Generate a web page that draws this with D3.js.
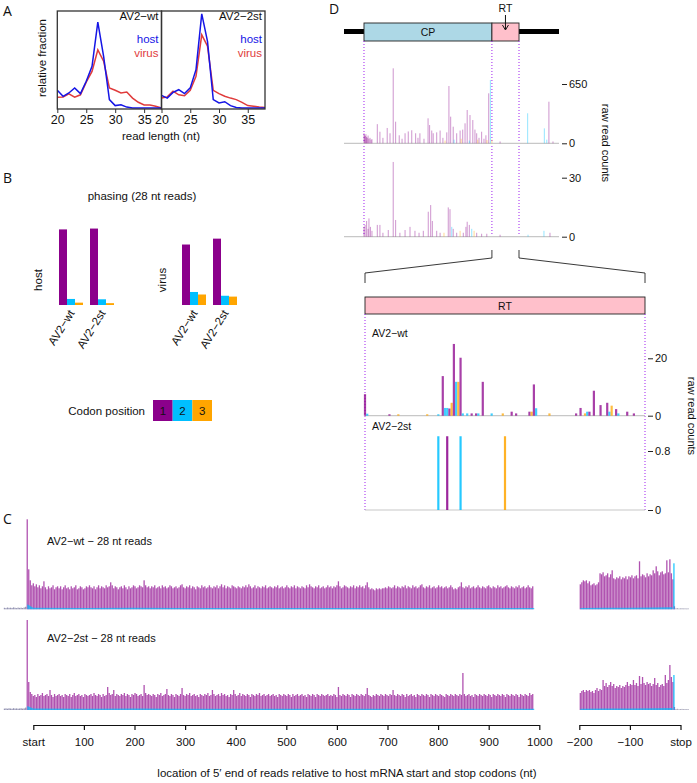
<!DOCTYPE html>
<html><head><meta charset="utf-8">
<script src="https://cdn.jsdelivr.net/npm/d3@7"></script>
<style>
body{margin:0;background:#fff;}
text{font-family:"Liberation Sans",Arial,sans-serif;fill:#111;}
.lett{font-family:"Open Sans","DejaVu Sans",sans-serif;font-size:14px;}
</style></head><body>
<svg id="c" width="697" height="783" xmlns="http://www.w3.org/2000/svg"></svg>
<script>
// ---------- DATA ----------
// Panel A: read-length distributions (%)
const readLengths = [20,21,22,23,24,25,26,27,28,29,30,31,32,33,34,35,36,37,38];
const hostWt   = [5.9,3.9,5.0,6.7,4.8,8.9,13.9,28.6,17.2,2.8,0.8,1.1,0.3,0,0,0,0,0,0];
const virusWt  = [3.6,3.7,4.7,3.6,4.4,8.6,12.2,19.4,15.6,6.7,5.9,5.0,5.3,3.3,1.9,1.0,1.0,0.6,0];
const host2st  = [4.2,3.3,5.2,6.1,4.8,6.7,12.8,31.4,22.2,2.8,1.7,2.1,0.8,0.2,0,0,0,0,0];
const virus2st = [3.3,3.7,5.6,4.4,4.1,5.9,10.6,24.4,20.6,5.9,4.8,3.9,3.3,2.8,1.9,0.8,0.6,0.3,0.2];
const aTicks = [20,25,30,35];

// Panel B: phasing fractions (frames 1,2,3)
const phasingSamples = ["AV2−wt","AV2−2st"];
const codonFrames = ["1","2","3"];
const phasingHost  = [[0.90,0.072,0.028],[0.91,0.068,0.022]];
const phasingVirus = [[0.72,0.155,0.125],[0.79,0.11,0.10]];

// Panel D: genome overview (genome coordinate 0..1000)
const genomeFeatures = [{name:"CP", start:93, end:688, fill:"#ADD8E6"},{name:"RT", start:688, end:814, fill:"#FFC0CB"}];
const dWtPos   = [93,96,99,102,105,108,112,116,121,126,130,155,167,181,201,214,229,240,257,270,284,299,315,333,344,353,372,391,398,408,415,431,447,460,478,488,496,508,524,540,552,563,573,586,599,609,617,628,640,651,660,673,681,688,726,854,932,943,953,972,470,512,545,583,622,665];
const dWtCount = [110,90,80,100,70,60,85,50,60,40,45,210,127,60,168,110,822,237,88,50,110,130,143,110,60,110,50,274,200,140,110,120,140,60,120,628,292,182,110,140,150,219,365,310,255,150,110,60,127,50,88,548,694,40,20,329,164,40,456,20,30,40,50,30,40,35];
const dWtFrame = [0,0,0,0,0,0,0,0,0,0,0,0,0,0,0,0,0,0,0,0,0,0,0,0,0,0,0,0,0,0,0,0,0,0,0,0,0,0,0,0,0,0,0,0,0,0,0,0,0,0,0,0,1,2,0,1,1,1,0,0,2,1,2,1,2,2];
const d2Pos   = [93,98,105,112,116,123,130,155,167,181,206,229,240,260,284,307,330,349,369,392,403,411,431,447,465,485,493,501,508,524,540,555,567,573,583,594,605,617,640,664,726,856,930,958];
const d2Count = [5,6,8,4,9.3,5,3,6,6,2,3.4,38,8.5,2,3.4,5,3,2,3,12.7,16.1,8,3,2,2,14.9,14,5,4,2,3,2,5,7.6,6,4,3,2,1.5,1.5,1,1,3,2];
const d2Frame = [0,0,0,0,0,0,0,0,0,0,0,0,0,0,0,0,0,0,0,0,0,0,0,0,2,0,0,1,0,0,2,0,0,0,0,1,2,0,0,0,0,1,1,0];
const dWtTicks = [0,650], d2Ticks = [0,30];

// Panel D zoom: RT region (nt 0..126)
const rtWtPos   = [0,1,11,15,28,33,35,36,37,38,39,40,41,42,43,44,46,48,50,51,53,57,62,66,68,74,75,76,77,83,95,97,99,100,101,103,106,109,110,111,113,114,118,121];
const rtWtCount = [7.5,0.7,0.5,0.5,0.5,0.5,13.8,2.7,2.7,2.5,4.5,25,11.8,11.8,20.2,0.8,0.8,0.8,0.8,0.8,11.8,0.8,0.8,1.4,0.8,1.4,1.4,10.9,2.6,0.8,0.8,2.7,0.8,1.4,1.4,8.7,3.7,4.5,1.4,3.5,2.3,0.8,1.4,0.8];
const rtWtFrame = [0,1,0,2,2,1,0,1,1,0,2,0,1,2,0,1,1,0,0,1,0,1,2,0,0,0,2,0,1,2,0,0,2,1,0,0,0,0,1,2,0,1,0,0];
const rt2Pos   = [33,37,43,63];
const rt2Count = [1,1,1,1];
const rt2Frame = [1,0,1,2];
const rtWtTicks = [0,20], rt2Ticks = [0,0.8];

// Panel C: metagene profiles, frame-1 reads per codon (arbitrary units)
// main region: codon 5' ends from -57 nt, step 3
const cWtMain = [1.5,1.2,1.8,1.4,1.6,1.3,1.9,1.5,1.2,1.7,1.4,1.6,1.3,1.8,2.5,95,
40,29,24,26,23,25,22,24,21,23,28,22,20,23,21,22,24,20,22,23,
21,23,20,22,24,21,22,20,23,21,22,24,20,21,23,22,20,21,23,22,
24,22,21,23,20,22,24,21,23,22,21,24,22,23,27,24,21,23,22,20,
22,23,21,24,22,20,23,21,22,24,23,21,22,24,23,22,29,24,22,23,
21,23,22,24,21,22,23,21,24,22,23,21,22,24,23,21,22,23,21,22,
24,25,22,21,23,22,24,21,23,22,20,23,22,21,24,22,23,21,22,24,
22,21,23,22,24,21,23,25,22,24,21,23,22,21,24,23,22,21,23,22,
21,23,22,24,22,25,23,21,22,24,21,23,22,21,23,22,24,21,22,23,
22,21,23,22,24,21,22,23,21,22,24,22,21,23,22,24,21,23,22,21,
23,22,21,24,22,25,23,22,21,23,22,24,21,22,23,21,22,24,22,23,
21,23,22,24,28,23,21,22,24,23,22,21,23,22,24,21,23,22,24,22,
23,21,24,27,22,20,21,20,19,21,20,21,20,21,21,22,21,23,22,21,
22,24,21,23,22,21,23,22,24,21,23,22,21,24,22,23,21,22,24,25,
22,21,23,22,24,21,22,23,21,22,24,22,23,21,22,23,21,22,24,22,
20,21,20,22,23,27,22,21,23,22,24,21,22,23,21,22,24,22,21,23,
22,21,23,24,22,21,23,22,21,24,22,23,21,22,23,24,22,21,23,22,
21,23,22,24,21,22,23,21,22,24,22,21,23];
const c2stMain = [1.4,1.6,1.3,1.7,1.5,1.2,1.8,1.4,1.6,1.3,1.5,1.7,1.4,1.6,2.4,95,
28,18,16,14,15,13,16,14,15,17,14,15,16,14,20,15,13,16,14,15,
16,14,15,13,16,15,14,16,13,15,17,14,15,16,14,15,13,16,15,14,
15,16,14,17,15,14,16,15,13,16,14,15,23,17,15,16,20,14,16,15,
14,16,15,17,14,16,15,13,16,15,17,16,14,15,16,14,25,17,15,16,
15,14,16,15,13,16,15,17,14,15,16,21,15,14,16,15,13,16,15,14,
16,22,15,14,16,15,17,14,15,16,14,15,13,16,15,14,16,15,17,14,
15,20,16,14,15,16,14,17,15,16,14,15,13,16,15,20,16,14,15,17,
14,16,15,14,16,15,13,16,15,14,16,15,17,14,15,16,14,15,16,14,
15,16,14,15,13,16,15,14,16,15,14,16,15,13,16,14,15,16,14,15,
16,14,15,13,16,15,14,16,15,13,16,15,14,16,15,14,15,16,14,15,
14,16,15,13,23,15,14,16,15,14,16,15,13,16,15,14,16,15,14,16,
15,14,16,22,15,14,13,15,14,16,15,14,16,15,14,16,15,14,16,15,
20,15,14,16,15,14,16,15,13,16,14,15,16,14,15,13,16,15,14,16,
15,14,16,15,13,16,15,14,16,15,14,16,15,14,13,16,15,14,16,15,
14,16,15,14,16,15,37,16,14,15,16,14,15,13,16,15,14,16,15,14,
16,15,14,16,15,13,16,15,14,16,15,14,16,15,13,16,15,14,16,15,
14,16,15,13,16,15,14,16,15,14,17,15,16];
// stop region: codon 5' ends from -198 nt, step 3
const cWtStop = [25,27,29,28,29,26,28,24,25,26,24,25,27,36,35,37,33,34,36,32,35,39,31,30,
32,31,33,30,32,31,33,30,33,32,34,31,33,34,31,48,33,35,34,32,36,33,35,34,39,36,43,38,34,37,
38,35,36,49,37,50,36,30,3];
const c2stStop = [17,19,20,18,20,19,20,18,19,17,20,22,19,21,20,30,24,27,23,25,28,24,26,22,
24,23,25,22,24,23,25,28,24,26,25,30,25,27,24,34,26,33,27,25,28,26,27,24,26,32,25,27,23,25,
26,24,35,27,30,45,33,28,3];
const cPostStop = [1,1.2,0.8,1,1.1,0.9,1,0.8,1];
// other frames (cyan) profile and near-stop frame-2 peak
const cFrame2Pos = [-12,0,100,200,300,400,500,600,700,800,900,990];
const cFrame2Wt  = [5,1.6,1.4,1.5,1.3,1.4,1.3,1.2,1.3,1.2,1.3,1.2];
const cFrame2St  = [4,1.5,1.3,1.4,1.3,1.3,1.2,1.2,1.3,1.2,1.2,1.2];
const cStopFrame2Pos = [-198,-150,-100,-50,-16];
const cStopFrame2Wt = [1.4,1.5,1.6,1.8,2];
const cStopFrame2St = [1.3,1.4,1.5,1.7,2];
const cStopCyanPos = -13, cStopCyanWt = 46, cStopCyan2st = 35;
const cMainTicks = [0,100,200,300,400,500,600,700,800,900,1000];
const cStopTicks = [-200,-100,0];

// ---------- DRAWING ----------
const svg = d3.select("#c");
const frameColors = ["#8B008B","#00BFFF","#FFA500"];
function txt(x,y,s,opt={}){
  const t = svg.append("text").attr("x",x).attr("y",y).text(s)
    .attr("font-size",opt.size||11.5).attr("text-anchor",opt.anchor||"start");
  if(opt.fill) t.style("fill",opt.fill);
  if(opt.rot!==undefined) t.attr("transform",`rotate(${opt.rot},${x},${y})`);
  if(opt.cls) t.attr("class",opt.cls);
  return t;
}
// panel letters
txt(3,16,"A",{cls:"lett",size:14});
txt(3,183,"B",{cls:"lett",size:14});
txt(3,524,"C",{cls:"lett",size:14});
txt(329,14,"D",{cls:"lett",size:14});

// ---- Panel A ----
const aPanels = [
  {label:"AV2−wt", host:hostWt, virus:virusWt, x0:57.3, x1:161.5},
  {label:"AV2−2st", host:host2st, virus:virus2st, x0:161.5, x1:265}
];
const aY = d3.scaleLinear().domain([0,32]).range([108,12]);
aPanels.forEach(p=>{
  const x = d3.scaleLinear().domain([20,38]).range([p.x0, p.x1]);
  const g = svg.append("g");
  const line = d3.line().x((d,i)=>x(readLengths[i])).y(d=>aY(d));
  g.append("path").datum(p.virus).attr("d",line).attr("fill","none").attr("stroke","#e03c3c").attr("stroke-width",1.5);
  g.append("path").datum(p.host).attr("d",line).attr("fill","none").attr("stroke","#1515e6").attr("stroke-width",1.5);
  g.append("rect").attr("x",p.x0).attr("y",11).attr("width",p.x1-p.x0).attr("height",98)
    .attr("fill","none").attr("stroke","#333").attr("stroke-width",1.3);
  const ax = svg.append("g").attr("transform","translate(0,109)")
    .call(d3.axisBottom(x).tickValues(aTicks).tickSize(4).tickPadding(2).tickSizeOuter(0));
  ax.select(".domain").remove();
  ax.selectAll("line").attr("stroke","#333");
  ax.selectAll("text").attr("font-size",12.5).attr("font-family","Liberation Sans, Arial, sans-serif").style("fill","#111");
  txt(p.x1-3,20,p.label,{anchor:"end",size:11.5});
  txt(p.x1-3,43,"host",{anchor:"end",size:11.5,fill:"#1515e6"});
  txt(p.x1-3,57,"virus",{anchor:"end",size:11.5,fill:"#e03c3c"});
});
txt(46,58,"relative fraction",{anchor:"middle",rot:-90,size:11.5});
txt(161,140,"read length (nt)",{anchor:"middle",size:11.5});

// ---- Panel B ----
txt(142,200,"phasing (28 nt reads)",{anchor:"middle",size:11.5});
const bY = d3.scaleLinear().domain([0,1]).range([305,221]);
function phasingGroup(vals, x0, title, titleX){
  const xs = d3.scaleBand().domain(phasingSamples).range([x0, x0+55]).paddingInner(7/31).paddingOuter(0);
  const xf = d3.scaleBand().domain(codonFrames).range([0, xs.bandwidth()]);
  phasingSamples.forEach((s,si)=>{
    codonFrames.forEach((f,fi)=>{
      const v = vals[si][fi];
      svg.append("rect").attr("x",xs(s)+xf(f)).attr("width",xf.bandwidth())
        .attr("y",bY(v)).attr("height",bY(0)-bY(v)).attr("fill",frameColors[fi]);
    });
    const cx = xs(s)+xs.bandwidth()/2+4;
    txt(cx,313,s,{anchor:"end",rot:-58,size:11.5});
  });
  txt(titleX,280,title,{anchor:"middle",rot:-90,size:11.5});
}
phasingGroup(phasingHost,59,"host",42);
phasingGroup(phasingVirus,182,"virus",166);
// legend
txt(145,415,"Codon position",{anchor:"end",size:11.5});
const legX = d3.scaleBand().domain(codonFrames).range([153,212]);
codonFrames.forEach((f,i)=>{
  svg.append("rect").attr("x",legX(f)).attr("y",400).attr("width",legX.bandwidth()).attr("height",21).attr("fill",frameColors[i]);
  txt(legX(f)+legX.bandwidth()/2,415,f,{anchor:"middle",size:11.5});
});

// ---- Panel D: genome overview ----
const gx = d3.scaleLinear().domain([0,1000]).range([344,559]);
svg.append("line").attr("x1",gx(0)).attr("x2",gx(1000)).attr("y1",31.5).attr("y2",31.5).attr("stroke","#000").attr("stroke-width",5);
genomeFeatures.forEach(f=>{
  svg.append("rect").attr("x",gx(f.start)).attr("width",gx(f.end)-gx(f.start)).attr("y",23).attr("height",18)
    .attr("fill",f.fill).attr("stroke","#222").attr("stroke-width",0.9);
});
txt((gx(93)+gx(688))/2,36,"CP",{anchor:"middle",size:10.5});
const rtMid = (gx(688)+gx(814))/2;
txt(rtMid,12,"RT",{anchor:"middle",size:10.5});
svg.append("line").attr("x1",rtMid).attr("x2",rtMid).attr("y1",15).attr("y2",29).attr("stroke","#111").attr("stroke-width",1);
svg.append("path").attr("d",`M${rtMid-3},25 L${rtMid},30 L${rtMid+3},25`).attr("fill","none").attr("stroke","#111").attr("stroke-width",1);
// dotted boundaries
[93,688,814].forEach(p=>{
  svg.append("line").attr("x1",gx(p)).attr("x2",gx(p)).attr("y1",41).attr("y2",238)
    .attr("stroke","#a020f0").attr("stroke-width",1).attr("stroke-dasharray","1,2");
});
function track(pos,cnt,frm,xs,y,ticks,baseX0,baseX1,opacity,bw,axisX){
  svg.append("line").attr("x1",baseX0).attr("x2",baseX1).attr("y1",y(0)).attr("y2",y(0)).attr("stroke","#c8c8c8").attr("stroke-width",1.2);
  pos.forEach((p,i)=>{
    svg.append("rect").attr("x",xs(p)-bw/2).attr("width",bw).attr("y",y(cnt[i])).attr("height",y(0)-y(cnt[i]))
      .attr("fill",frameColors[frm[i]]).attr("fill-opacity",opacity);
  });
  const ax = svg.append("g").attr("transform",`translate(${axisX},0)`)
    .call(d3.axisRight(y).tickValues(ticks).tickSize(5).tickPadding(2).tickFormat(d3.format("")));
  ax.select(".domain").remove();
  ax.selectAll("line").attr("stroke","#222");
  ax.selectAll("text").attr("font-size",11).attr("font-family","Liberation Sans, Arial, sans-serif").style("fill","#111");
}
const dWtY = d3.scaleLinear().domain([0,650]).range([143.3,84]);
const d2Y = d3.scaleLinear().domain([0,30]).range([236.7,177.7]);
track(dWtPos,dWtCount,dWtFrame,gx,dWtY,dWtTicks,gx(0),gx(1000),0.38,1.1,562);
track(d2Pos,d2Count,d2Frame,gx,d2Y,d2Ticks,gx(0),gx(1000),0.38,1.1,562);
txt(602,143,"raw read counts",{anchor:"middle",rot:90,size:11});

// zoom bracket
const rx = d3.scaleLinear().domain([0,126]).range([365,645]);
svg.append("path").attr("d",`M${gx(688)},250 L${gx(688)},258 L${rx(0)},273 L${rx(0)},283`).attr("fill","none").attr("stroke","#222").attr("stroke-width",0.9);
svg.append("path").attr("d",`M${gx(814)},250 L${gx(814)},258 L${rx(126)},273 L${rx(126)},283`).attr("fill","none").attr("stroke","#222").attr("stroke-width",0.9);
svg.append("rect").attr("x",rx(0)).attr("width",rx(126)-rx(0)).attr("y",297).attr("height",17).attr("fill","#FFC0CB").attr("stroke","#222").attr("stroke-width",0.9);
txt((rx(0)+rx(126))/2,310,"RT",{anchor:"middle",size:10.5});
[0,126].forEach(p=>{
  svg.append("line").attr("x1",rx(p)).attr("x2",rx(p)).attr("y1",314).attr("y2",512)
    .attr("stroke","#a020f0").attr("stroke-width",1).attr("stroke-dasharray","1,2");
});
const rtWtY = d3.scaleLinear().domain([0,20]).range([415.7,358.3]);
const rt2Y = d3.scaleLinear().domain([0,0.8]).range([510,451]);
track(rtWtPos,rtWtCount,rtWtFrame,rx,rtWtY,rtWtTicks,rx(0),rx(126),0.75,2.2,648);
track(rt2Pos,rt2Count,rt2Frame,rx,rt2Y,rt2Ticks,rx(0),rx(126),0.85,2.2,648);
txt(372,337,"AV2−wt",{size:10.5});
txt(372,430,"AV2−2st",{size:10.5});
txt(688,416,"raw read counts",{anchor:"middle",rot:90,size:11});

// ---- Panel C ----
const cxMain = d3.scaleLinear().domain([0,1000]).range([33.3,539.3]);
const cxStop = d3.scaleLinear().domain([-200,0]).range([579.3,680.5]);
const cTracks = [
  {main:cWtMain, stop:cWtStop, f2:cFrame2Wt, sf2:cStopFrame2Wt, cyan:cStopCyanWt, y:d3.scaleLinear().domain([0,90]).range([609.3,519.3]).clamp(true), label:"AV2−wt − 28 nt reads", ly:545},
  {main:c2stMain, stop:c2stStop, f2:cFrame2St, sf2:cStopFrame2St, cyan:cStopCyan2st, y:d3.scaleLinear().domain([0,90]).range([710,620]).clamp(true), label:"AV2−2st − 28 nt reads", ly:642}
];
cTracks.forEach(t=>{
  const y = t.y;
  t.main.forEach((v,i)=>{
    const p = -57 + 3*i;
    svg.append("rect").attr("x",cxMain(p)-0.65).attr("width",1.3).attr("y",y(v)).attr("height",y(0)-y(v))
      .attr("fill", p < -12 ? "#7a7aa0" : "#8B008B").attr("fill-opacity", p < -12 ? 0.8 : 0.68);
  });
  t.stop.forEach((v,i)=>{
    const p = -198 + 3*i;
    svg.append("rect").attr("x",cxStop(p)-0.65).attr("width",1.3).attr("y",y(v)).attr("height",y(0)-y(v))
      .attr("fill","#8B008B").attr("fill-opacity",0.68);
  });
  cPostStop.forEach((v,i)=>{
    const p = -9 + 3*i;
    svg.append("rect").attr("x",cxStop(p)-0.65).attr("width",1.3).attr("y",y(v)).attr("height",y(0)-y(v))
      .attr("fill","#9a9ab0").attr("fill-opacity",0.8);
  });
  const area = (xs)=>d3.area().x((d,i)=>xs(d[0])).y0(y(0)).y1(d=>y(d[1]));
  svg.append("path").datum(cFrame2Pos.map((p,i)=>[p,t.f2[i]])).attr("d",area(cxMain)).attr("fill","#00BFFF").attr("fill-opacity",0.7);
  svg.append("path").datum(cStopFrame2Pos.map((p,i)=>[p,t.sf2[i]])).attr("d",area(cxStop)).attr("fill","#00BFFF").attr("fill-opacity",0.7);
  svg.append("rect").attr("x",cxStop(cStopCyanPos)-0.7).attr("width",1.4).attr("y",y(t.cyan)).attr("height",y(0)-y(t.cyan)).attr("fill","#00BFFF").attr("fill-opacity",0.8);
  txt(47,t.ly,t.label,{size:11});
});
function cAxis(xs,ticks,fmt){
  const ax = svg.append("g").attr("transform","translate(0,725)")
    .call(d3.axisBottom(xs).tickValues(ticks).tickSize(5).tickSizeOuter(0).tickPadding(8).tickFormat(fmt));
  ax.select(".domain").attr("stroke","#111").attr("stroke-width",1.2);
  ax.selectAll("line").attr("stroke","#111").attr("stroke-width",1.2);
  ax.selectAll("text").attr("font-size",11.5).attr("font-family","Liberation Sans, Arial, sans-serif").style("fill","#111");
}
cAxis(cxMain,cMainTicks,d=>d===0?"start":String(d));
cAxis(cxStop,cStopTicks,d=>d===0?"stop":String(d).replace("-","−"));
txt(347,777,"location of 5′ end of reads relative to host mRNA start and stop codons (nt)",{anchor:"middle",size:11.5});
</script>
</body></html>
